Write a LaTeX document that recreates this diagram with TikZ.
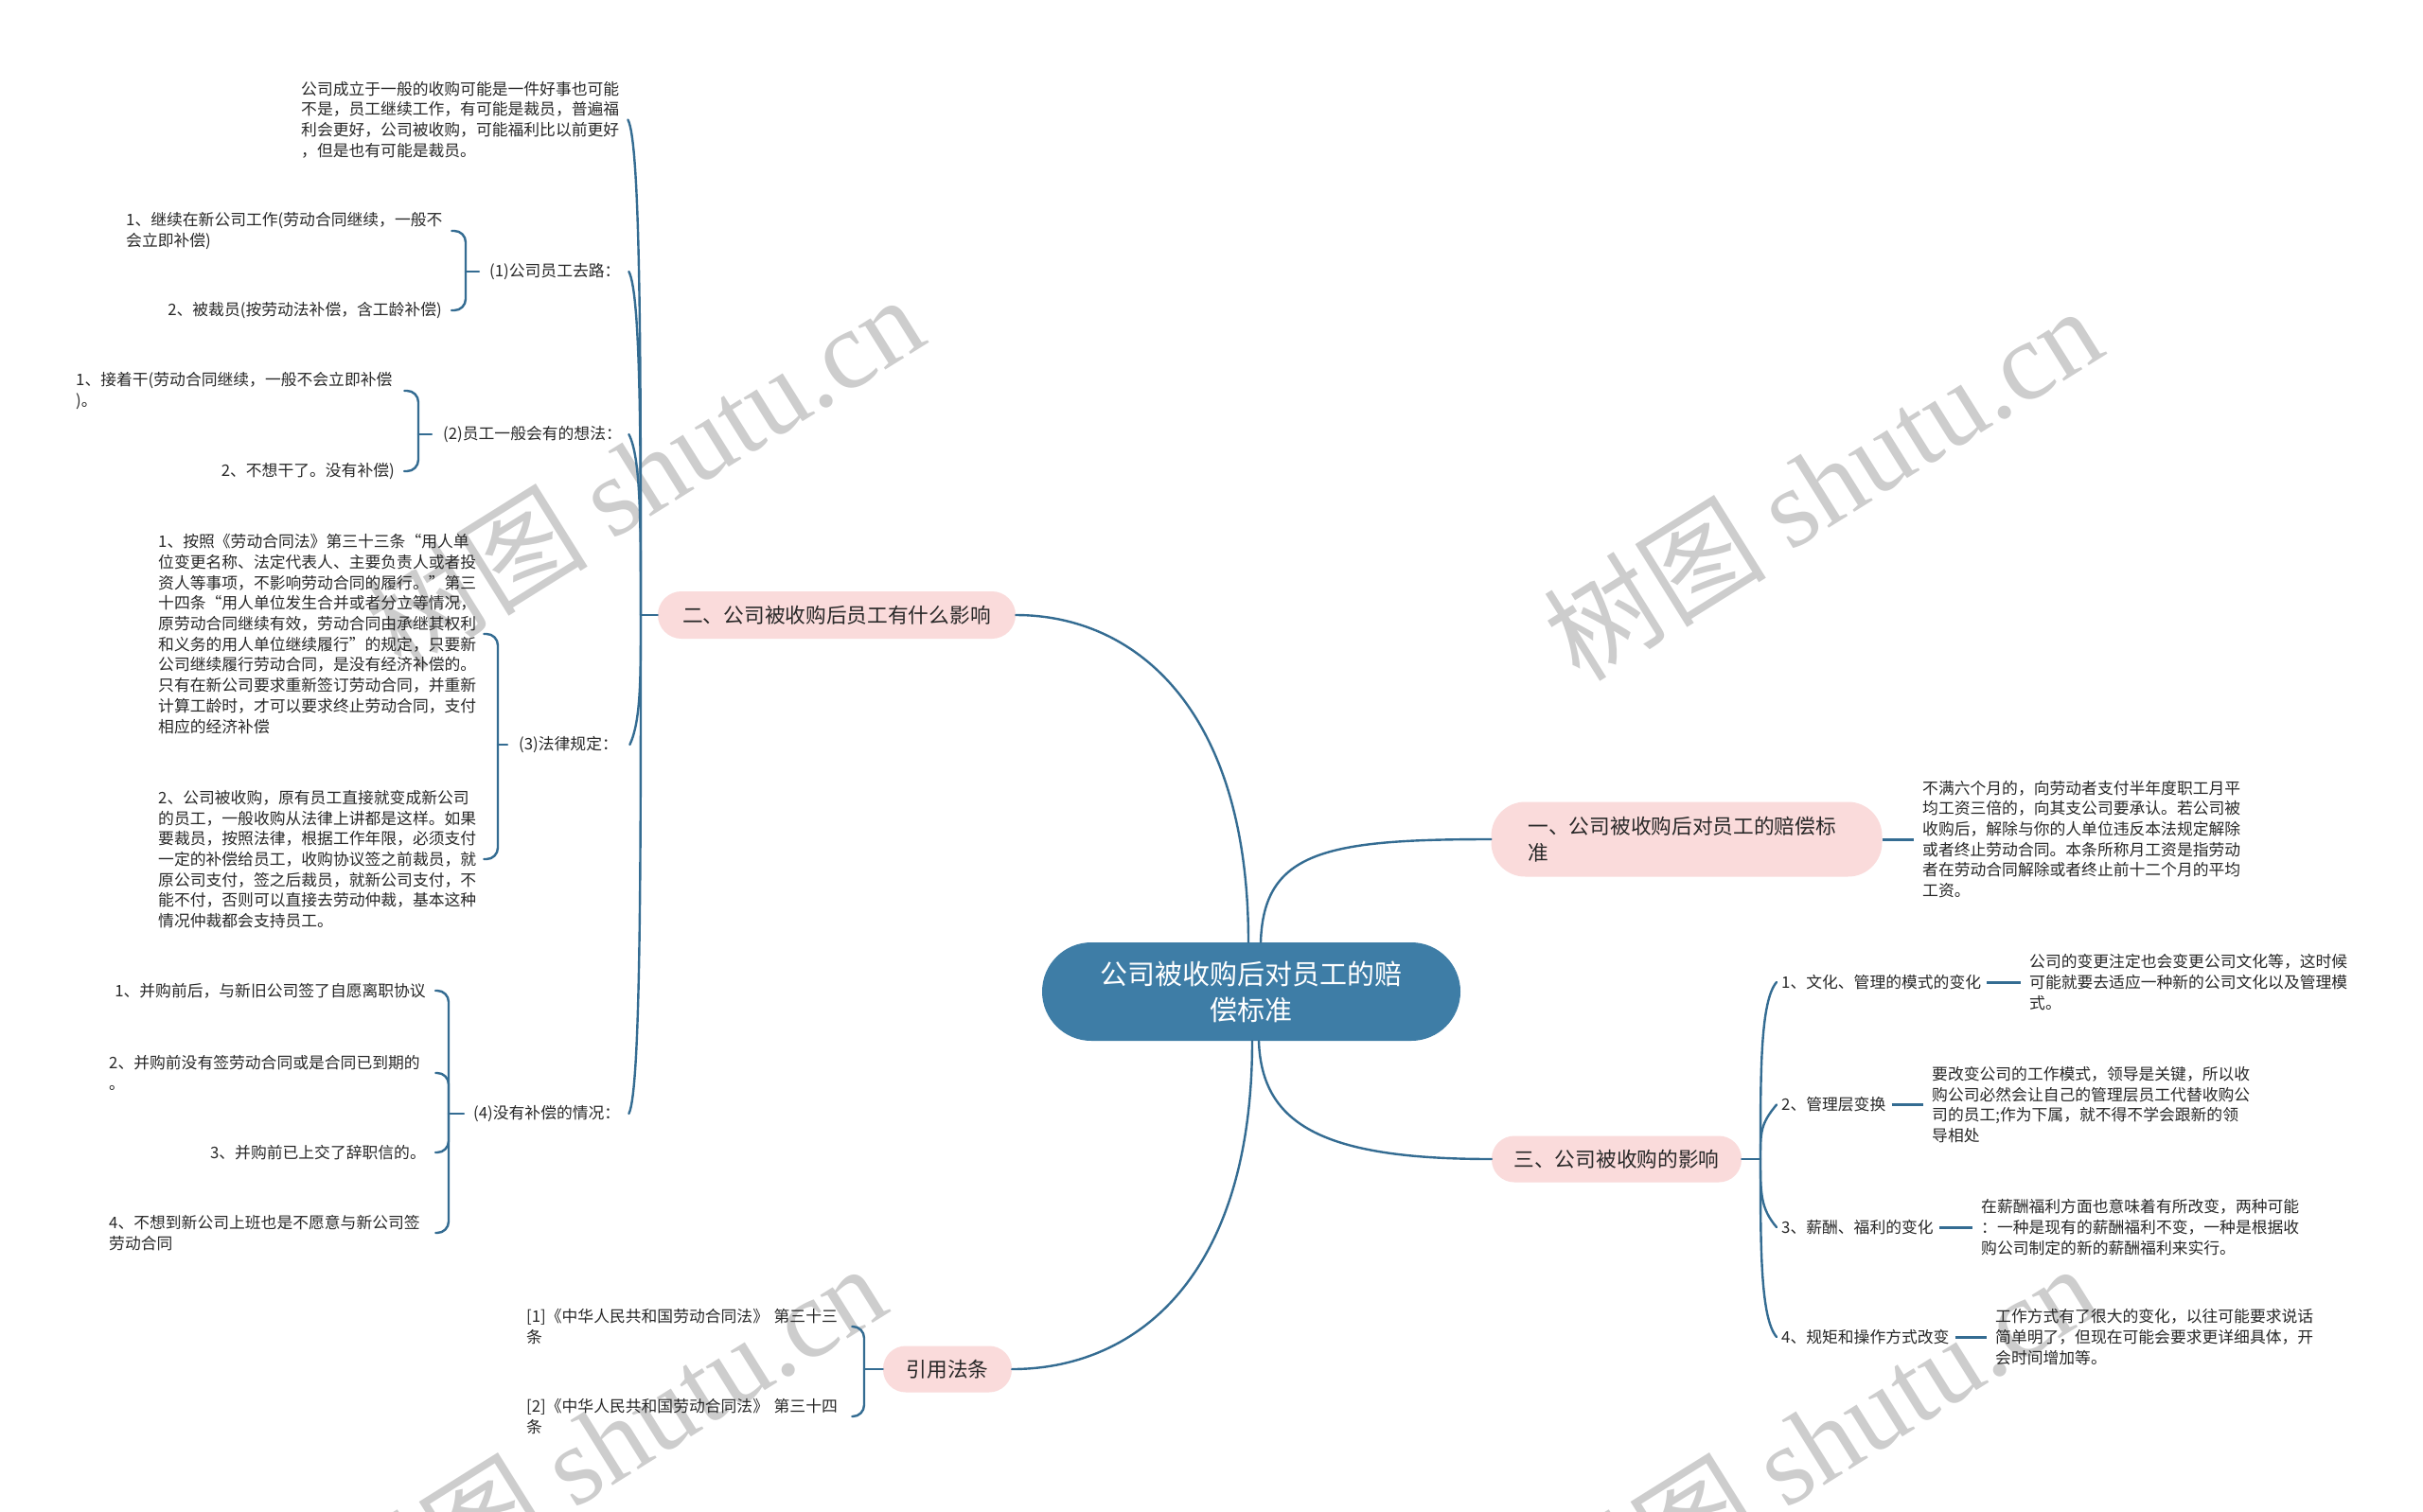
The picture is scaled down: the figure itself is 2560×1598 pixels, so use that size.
\documentclass[tikz,border=0pt]{standalone}
\usepackage{fontspec}
\setmainfont{Noto Sans CJK SC}
\newfontfamily\wmserif{Liberation Serif}
\usetikzlibrary{calc}
\definecolor{linec}{RGB}{52,108,146}
\definecolor{cenfill}{RGB}{62,125,166}
\definecolor{pinkfill}{RGB}{250,219,219}
\definecolor{txtc}{RGB}{40,40,40}
\definecolor{wmc}{RGB}{205,205,205}
\begin{document}
\begin{tikzpicture}[x=1pt,y=-1pt,
  conn/.style={draw=linec, line width=2.4pt, line cap=round},
  brk/.style={conn, rounded corners=12pt},
  dashc/.style={draw=linec, line width=3pt},
  small/.style={inner sep=0pt, text=txtc, font=\fontsize{16.8}{21.7}\selectfont},
  ltxt/.style={small, anchor=west, align=left},
  rtxt/.style={small, anchor=east, align=right},
  pinkbox/.style={fill=pinkfill, inner sep=0pt, text=txtc, font=\fontsize{21.7}{28}\selectfont},
  wm/.style={text=wmc, rotate=32, font=\fontsize{118}{118}\selectfont},
]
\useasboundingbox (0,0) rectangle (2560,1598);
\fill[white] (0,0) rectangle (2560,1598);

% watermarks
\node[wm] (w1) at (680,498) {树图 {\wmserif shutu.cn}};
\node[wm] (w2) at (1925,510) {树图 {\wmserif shutu.cn}};
\node[wm] (w3) at (640,1522) {树图 {\wmserif shutu.cn}};
\node[wm] (w4) at (1920,1522) {树图 {\wmserif shutu.cn}};

% main nodes
\node[fill=cenfill, text=white, minimum width=442pt, minimum height=104pt, rounded corners=52pt, inner sep=0pt, align=center, font=\fontsize{29}{38}\selectfont] (cen) at (1322,1048) {公司被收购后对员工的赔\\偿标准};
\node[pinkbox, minimum width=378pt, minimum height=50pt, rounded corners=25pt] (b2) at (884,650) {二、公司被收购后员工有什么影响};
\node[pinkbox, text width=335pt, align=left, inner xsep=39pt, minimum height=79pt, rounded corners=36pt] (b1) at (1782,887) {一、公司被收购后对员工的赔偿标\\准};
\node[pinkbox, minimum width=264pt, minimum height=49pt, rounded corners=24pt] (b3) at (1708,1225) {三、公司被收购的影响};
\node[pinkbox, minimum width=136pt, minimum height=49pt, rounded corners=24pt] (b4) at (1001,1447) {引用法条};

% left branch texts
\node[ltxt, text width=345pt] (t0) at (318,126.5) {公司成立于一般的收购可能是一件好事也可能\\不是，员工继续工作，有可能是裁员，普遍福\\利会更好，公司被收购，可能福利比以前更好\\，但是也有可能是裁员。};
\node[ltxt, text width=147pt] (p1) at (517,287) {(1)公司员工去路：};
\node[ltxt, text width=196pt] (p2) at (468,459) {(2)员工一般会有的想法：};
\node[ltxt, text width=117pt] (p3) at (548,787) {(3)法律规定：};
\node[ltxt, text width=164pt] (p4) at (500,1177) {(4)没有补偿的情况：};

\node[ltxt, text width=334pt] (c11) at (133,244) {1、继续在新公司工作(劳动合同继续，一般不\\会立即补偿)};
\node[rtxt] (c12) at (467,328) {2、被裁员(按劳动法补偿，含工龄补偿)};
\node[ltxt, text width=337pt] (c21) at (80,413) {1、接着干(劳动合同继续，一般不会立即补偿\\)。};
\node[rtxt] (c22) at (417,498) {2、不想干了。没有补偿)};
\node[ltxt, text width=334pt] (c31) at (167,670) {1、按照《劳动合同法》第三十三条“用人单\\位变更名称、法定代表人、主要负责人或者投\\资人等事项，不影响劳动合同的履行。”第三\\十四条“用人单位发生合并或者分立等情况，\\原劳动合同继续有效，劳动合同由承继其权利\\和义务的用人单位继续履行”的规定，只要新\\公司继续履行劳动合同，是没有经济补偿的。\\只有在新公司要求重新签订劳动合同，并重新\\计算工龄时，才可以要求终止劳动合同，支付\\相应的经济补偿};
\node[ltxt, text width=334pt] (c32) at (167,908) {2、公司被收购，原有员工直接就变成新公司\\的员工，一般收购从法律上讲都是这样。如果\\要裁员，按照法律，根据工作年限，必须支付\\一定的补偿给员工，收购协议签之前裁员，就\\原公司支付，签之后裁员，就新公司支付，不\\能不付，否则可以直接去劳动仲裁，基本这种\\情况仲裁都会支持员工。};
\node[rtxt] (c41) at (450,1047) {1、并购前后，与新旧公司签了自愿离职协议};
\node[ltxt, text width=335pt] (c42) at (115,1134) {2、并购前没有签劳动合同或是合同已到期的\\。};
\node[rtxt] (c43) at (450,1218) {3、并购前已上交了辞职信的。};
\node[ltxt, text width=335pt] (c44) at (115,1303) {4、不想到新公司上班也是不愿意与新公司签\\劳动合同};

\node[ltxt, text width=334pt] (r1) at (556,1402) {[1]《中华人民共和国劳动合同法》 第三十三\\条};
\node[ltxt, text width=334pt] (r2) at (556,1497) {[2]《中华人民共和国劳动合同法》 第三十四\\条};

% right branch texts
\node[ltxt, text width=345pt] (a1) at (2031,887) {不满六个月的，向劳动者支付半年度职工月平\\均工资三倍的，向其支公司要承认。若公司被\\收购后，解除与你的人单位违反本法规定解除\\或者终止劳动合同。本条所称月工资是指劳动\\者在劳动合同解除或者终止前十二个月的平均\\工资。};
\node[ltxt] (s1) at (1882,1038) {1、文化、管理的模式的变化};
\node[ltxt] (s2) at (1882,1167.5) {2、管理层变换};
\node[ltxt] (s3) at (1882,1297) {3、薪酬、福利的变化};
\node[ltxt] (s4) at (1882,1413) {4、规矩和操作方式改变};
\node[ltxt, text width=345pt] (d1) at (2144,1038) {公司的变更注定也会变更公司文化等，这时候\\可能就要去适应一种新的公司文化以及管理模\\式。};
\node[ltxt, text width=345pt] (d2) at (2041,1167.5) {要改变公司的工作模式，领导是关键，所以收\\购公司必然会让自己的管理层员工代替收购公\\司的员工;作为下属，就不得不学会跟新的领\\导相处};
\node[ltxt, text width=345pt] (d3) at (2093,1297) {在薪酬福利方面也意味着有所改变，两种可能\\：一种是现有的薪酬福利不变，一种是根据收\\购公司制定的新的薪酬福利来实行。};
\node[ltxt, text width=345pt] (d4) at (2108,1413) {工作方式有了很大的变化，以往可能要求说话\\简单明了，但现在可能会要求更详细具体，开\\会时间增加等。};

% center connectors
\draw[conn] ([xshift=-3pt]cen.north) .. controls (1319,750) and (1200,650) .. (b2.east);
\draw[conn] ([xshift=10pt]cen.north) .. controls (1335,900) and (1400,887) .. (b1.west);
\draw[conn] ([xshift=8pt]cen.south) .. controls (1333,1190) and (1400,1225) .. (b3.west);
\draw[conn] ([xshift=1pt]cen.south) .. controls (1323,1350) and (1200,1447) .. (b4.east);

% branch two spine
\coordinate (sp2) at (677,650);
\draw[conn] (b2.west) -- (sp2);
\draw[conn] (sp2) .. controls (677,388) and (677,151) .. (t0.east);
\draw[conn] (sp2) .. controls (677,468) and (677,311) .. (p1.east);
\draw[conn] (sp2) .. controls (677,553) and (677,483) .. (p2.east);
\draw[conn] (sp2) .. controls (677,718) and (677,762) .. (p3.east);
\draw[conn] (sp2) .. controls (677,912) and (677,1152) .. (p4.east);

% brackets
\coordinate (k1) at (492,287);
\draw[conn] ([xshift=-11pt]p1.west) -- (k1);
\draw[brk] (k1) |- ([xshift=10pt]c11.east);
\draw[brk] (k1) |- ([xshift=10pt]c12.east);

\coordinate (k2) at (442,459);
\draw[conn] ([xshift=-12pt]p2.west) -- (k2);
\draw[brk] (k2) |- ([xshift=10pt]c21.east);
\draw[brk] (k2) |- ([xshift=10pt]c22.east);

\coordinate (k3) at (526,787);
\draw[conn] ([xshift=-12pt]p3.west) -- (k3);
\draw[brk] (k3) |- ([xshift=10pt]c31.east);
\draw[brk] (k3) |- ([xshift=10pt]c32.east);

\coordinate (k4) at (474,1177);
\draw[conn] ([xshift=-10pt]p4.west) -- (k4);
\draw[brk] (k4) |- ([xshift=10pt]c41.east);
\draw[brk] (k4) |- ([xshift=10pt]c42.east);
\draw[brk] (k4) |- ([xshift=10pt]c43.east);
\draw[brk] (k4) |- ([xshift=10pt]c44.east);

\coordinate (k5) at (913,1447);
\draw[conn] (b4.west) -- (k5);
\draw[brk] (k5) |- ([xshift=10pt]r1.east);
\draw[brk] (k5) |- ([xshift=10pt]r2.east);

% branch one
\draw[dashc] (b1.east) -- ([xshift=-9pt]a1.west);

% branch three spine
\coordinate (sp3) at (1860,1225);
\draw[conn] (b3.east) -- (sp3);
\draw[conn] (sp3) .. controls (1860,1131) and (1860,1058) .. ([xshift=-5pt]s1.west);
\draw[conn] (sp3) .. controls (1860,1196) and (1860,1188) .. ([xshift=-5pt]s2.west);
\draw[conn] (sp3) .. controls (1860,1261) and (1860,1277) .. ([xshift=-5pt]s3.west);
\draw[conn] (sp3) .. controls (1860,1319) and (1860,1393) .. ([xshift=-5pt]s4.west);
\draw[dashc] ([xshift=6pt]s1.east) -- ([xshift=-9pt]d1.west);
\draw[dashc] ([xshift=6pt]s2.east) -- ([xshift=-9pt]d2.west);
\draw[dashc] ([xshift=6pt]s3.east) -- ([xshift=-9pt]d3.west);
\draw[dashc] ([xshift=6pt]s4.east) -- ([xshift=-9pt]d4.west);
\end{tikzpicture}
\end{document}
